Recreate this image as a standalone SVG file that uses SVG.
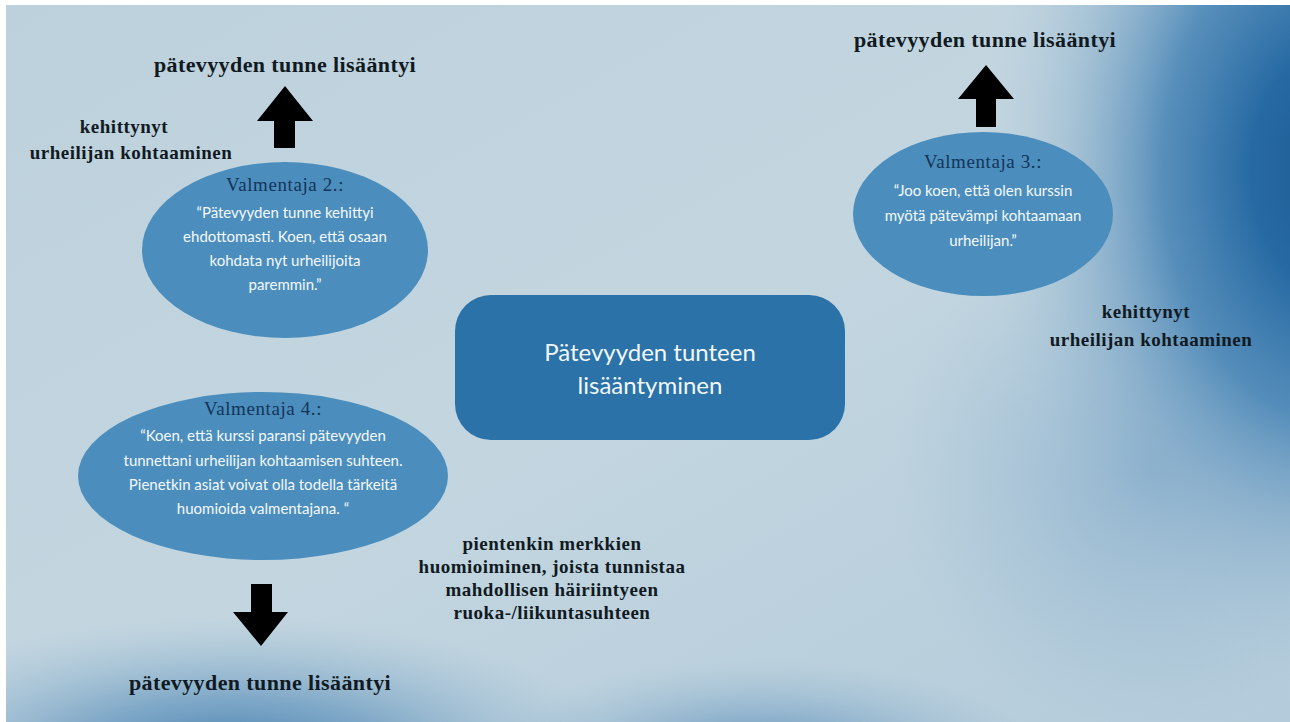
<svg xmlns="http://www.w3.org/2000/svg" width="1290" height="722" viewBox="0 0 1290 722">
<defs>
<linearGradient id="bgBase" x1="0" y1="0" x2="1" y2="1">
<stop offset="0" stop-color="#bdd1dc"/>
<stop offset="0.5" stop-color="#c3d6e0"/>
<stop offset="1" stop-color="#b3cbda"/>
</linearGradient>
<radialGradient id="rightDark" cx="1340" cy="170" r="420" gradientUnits="userSpaceOnUse" gradientTransform="translate(1340 170) scale(0.85 1.2) translate(-1340 -170)">
<stop offset="0" stop-color="#1b5892"/>
<stop offset="0.25" stop-color="#276aa3"/>
<stop offset="0.5" stop-color="#4583b5" stop-opacity="0.85"/>
<stop offset="0.75" stop-color="#80a9c8" stop-opacity="0.45"/>
<stop offset="1" stop-color="#a9c5d8" stop-opacity="0"/>
</radialGradient>
<radialGradient id="botBlue" cx="230" cy="760" r="260" gradientUnits="userSpaceOnUse" gradientTransform="translate(230 760) scale(1.5 0.55) translate(-230 -760)">
<stop offset="0" stop-color="#2f6ea5" stop-opacity="0.9"/>
<stop offset="0.45" stop-color="#4f88b6" stop-opacity="0.55"/>
<stop offset="1" stop-color="#8ab0cc" stop-opacity="0"/>
</radialGradient>
<radialGradient id="botBlue2" cx="760" cy="760" r="200" gradientUnits="userSpaceOnUse" gradientTransform="translate(760 760) scale(1.4 0.5) translate(-760 -760)">
<stop offset="0" stop-color="#3b78ad" stop-opacity="0.8"/>
<stop offset="1" stop-color="#8ab0cc" stop-opacity="0"/>
</radialGradient>
<radialGradient id="midBlue" cx="1150" cy="470" r="260" gradientUnits="userSpaceOnUse">
<stop offset="0" stop-color="#6496c0" stop-opacity="0.5"/>
<stop offset="1" stop-color="#8ab0cc" stop-opacity="0"/>
</radialGradient>
<style>
.lbl{font-family:"Liberation Serif","Times New Roman",serif;font-weight:bold;fill:#111a22;text-anchor:middle}
.big{font-size:22px;letter-spacing:0.4px}
.mid{font-size:19px;letter-spacing:0.5px}
.ell{fill:#4b8ebd}
.ttl{font-family:"Liberation Serif","Times New Roman",serif;font-size:19px;letter-spacing:0.6px;fill:#14345a;text-anchor:middle}
.body{font-family:Lato,"Open Sans",sans-serif;font-size:15px;fill:#f4f8fb;text-anchor:middle}
.ctr{font-family:Lato,"Open Sans",sans-serif;font-size:24px;fill:#f2f7fb;text-anchor:middle}
.arr{fill:#000000}
</style>
</defs>
<g id="background">
<rect x="0" y="0" width="1290" height="722" fill="#ffffff"/>
<rect x="6" y="5" width="1284" height="717" fill="url(#bgBase)"/>
<rect x="6" y="5" width="1284" height="717" fill="url(#midBlue)"/>
<rect x="6" y="5" width="1284" height="717" fill="url(#rightDark)"/>
<rect x="6" y="5" width="1284" height="717" fill="url(#botBlue)"/>
<rect x="6" y="5" width="1284" height="717" fill="url(#botBlue2)"/>
</g>
<g id="connectors">
<polygon class="arr" points="285,86 313,121 295,121 295,148 274,148 274,121 257,121"/>
<polygon class="arr" points="986,65 1014,99 996,99 996,127 976,127 976,99 958,99"/>
<polygon class="arr" points="251,584 272,584 272,612 288,612 261,646 233,612 251,612"/>
</g>
<g id="label-top-left">
<text class="lbl big" x="285" y="72">pätevyyden tunne lisääntyi</text>
</g>
<g id="label-top-right">
<text class="lbl big" x="985" y="47">pätevyyden tunne lisääntyi</text>
</g>
<g id="label-bottom">
<text class="lbl big" x="260" y="690">pätevyyden tunne lisääntyi</text>
</g>
<g id="label-kehittynyt-left">
<text class="lbl mid" x="124" y="133">kehittynyt</text>
<text class="lbl mid" x="131" y="159">urheilijan kohtaaminen</text>
</g>
<g id="label-kehittynyt-right">
<text class="lbl mid" x="1146" y="318">kehittynyt</text>
<text class="lbl mid" x="1151" y="346">urheilijan kohtaaminen</text>
</g>
<g id="label-pientenkin">
<text class="lbl mid" x="552" y="550">pientenkin merkkien</text>
<text class="lbl mid" x="552" y="573">huomioiminen, joista tunnistaa</text>
<text class="lbl mid" x="552" y="596">mahdollisen häiriintyeen</text>
<text class="lbl mid" x="552" y="619">ruoka-/liikuntasuhteen</text>
</g>
<g id="node-valmentaja2">
<ellipse class="ell" cx="285" cy="250" rx="143" ry="88"/>
<text class="ttl" x="285" y="191">Valmentaja 2.:</text>
<text class="body" x="285" y="218">“Pätevyyden tunne kehittyi</text>
<text class="body" x="285" y="242">ehdottomasti. Koen, että osaan</text>
<text class="body" x="285" y="266">kohdata nyt urheilijoita</text>
<text class="body" x="285" y="290">paremmin.”</text>
</g>
<g id="node-valmentaja4">
<ellipse class="ell" cx="263" cy="476" rx="185" ry="84"/>
<text class="ttl" x="263" y="415">Valmentaja 4.:</text>
<text class="body" x="263" y="441">“Koen, että kurssi paransi pätevyyden</text>
<text class="body" x="263" y="466">tunnettani urheilijan kohtaamisen suhteen.</text>
<text class="body" x="263" y="490">Pienetkin asiat voivat olla todella tärkeitä</text>
<text class="body" x="263" y="514">huomioida valmentajana. “</text>
</g>
<g id="node-valmentaja3">
<ellipse class="ell" cx="983" cy="214" rx="130" ry="82"/>
<text class="ttl" x="983" y="168">Valmentaja 3.:</text>
<text class="body" x="983" y="196">“Joo koen, että olen kurssin</text>
<text class="body" x="983" y="221">myötä pätevämpi kohtaamaan</text>
<text class="body" x="983" y="246">urheilijan.”</text>
</g>
<g id="node-center">
<rect x="455" y="295" width="390" height="145" rx="36" fill="#2a72a8"/>
<text class="ctr" x="650" y="361">Pätevyyden tunteen</text>
<text class="ctr" x="650" y="394">lisääntyminen</text>
</g>
</svg>
